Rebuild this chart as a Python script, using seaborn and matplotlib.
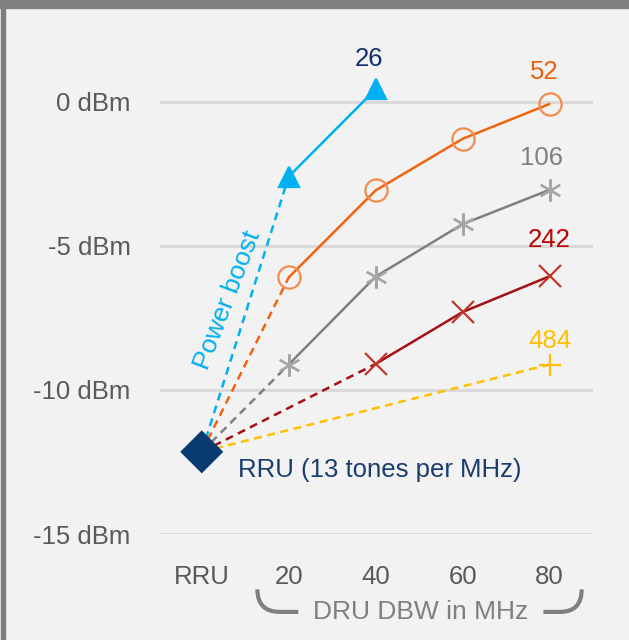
import matplotlib
matplotlib.use("Agg")
import matplotlib.pyplot as plt
import matplotlib.transforms as mtransforms
from matplotlib.path import Path
from matplotlib.patches import PathPatch
import seaborn as sns

## Data
categories = ["RRU", "20", "40", "60", "80"]
y_ticks = [0, -5, -10, -15]
y_tick_labels = ["0 dBm", "-5 dBm", "-10 dBm", "-15 dBm"]
rru_power = -12.15

bw_26 = ["20", "40"]
power_26 = [-2.6, 0.43]
bw_52 = ["20", "40", "60", "80"]
power_52 = [-6.1, -3.08, -1.29, -0.08]
bw_106 = ["20", "40", "60", "80"]
power_106 = [-9.12, -6.07, -4.25, -3.06]
bw_242 = ["40", "60", "80"]
power_242 = [-9.1, -7.3, -6.06]
bw_484 = ["80"]
power_484 = [-9.12]

## Style
sns.set_style("white", {"axes.facecolor": "#f2f2f2", "figure.facecolor": "#f2f2f2"})
plt.rcParams["font.family"] = ["Liberation Sans", "DejaVu Sans"]
FS = 18.5

fig = plt.figure(figsize=(6.29, 6.40), dpi=100)
ax = fig.add_axes([160 / 629, 106 / 640, 433 / 629, 490 / 640])

series = [
    # label, bandwidths, values, line colour, marker, marker colour, label colour, label offset
    ("26", bw_26, power_26, "#00b0f0", "^", "#00b0f0", "#14306a", (-5, 22)),
    ("52", bw_52, power_52, "#f0640f", "o", "#f28c4e", "#ee5f0d", (-4, 23)),
    ("106", bw_106, power_106, "#7f7f7f", (6, 2, 0), "#a6a6a6", "#7f7f7f", (-6, 23)),
    ("242", bw_242, power_242, "#a50f15", "x", "#c0392b", "#c00000", (0, 26)),
    ("484", bw_484, power_484, "#ffc000", "+", "#ffc000", "#ffc000", (0, 17)),
]

for name, bws, vals, lc, mk, mc, tc, off in series:
    xs = [categories.index(b) for b in bws]
    # dashed connector from the RRU point
    sns.lineplot(x=[0, xs[0]], y=[rru_power, vals[0]], ax=ax, color=lc,
                 linewidth=1.8, linestyle=(0, (3.2, 2.2)), zorder=2)
    if len(xs) > 1:
        sns.lineplot(x=xs, y=vals, ax=ax, color=lc, linewidth=1.8, zorder=3)
    filled = mk == "^"
    sns.lineplot(x=xs, y=vals, ax=ax, color=lc, linewidth=0, marker=mk,
                 markersize=16 if mk != "^" else 15,
                 markerfacecolor=mc if filled else "none",
                 markeredgecolor=mc, markeredgewidth=1.6, zorder=4)
    ax.annotate(name, (xs[-1], vals[-1]), xytext=off, textcoords="offset points",
                ha="center", va="center", fontsize=FS, color=tc)

# RRU reference point
sns.scatterplot(x=[0], y=[rru_power], ax=ax, marker="D", s=480, color="#0a3b70",
                edgecolor="none", zorder=5)
ax.annotate("RRU (13 tones per MHz)", (0, rru_power), xytext=(26, -13),
            textcoords="offset points", ha="left", va="center", fontsize=FS,
            color="#1a3d6e")
ax.text(0.30, -6.9, "Power boost", rotation=69, rotation_mode="anchor",
        ha="center", va="center", fontsize=FS + 0.5, color="#00b0f0")

## Axes
ax.set_xlim(-0.48, 4.5)
ax.set_ylim(-15, 2)
ax.set_xticks(range(len(categories)))
ax.set_xticklabels(categories)
ax.set_yticks(y_ticks)
ax.set_yticklabels(y_tick_labels)
ax.tick_params(axis="both", length=0, labelsize=FS, labelcolor="#595959")
ax.tick_params(axis="x", pad=22.5)
ax.tick_params(axis="y", pad=21)
ax.yaxis.grid(True, color="#d9d9d9", linewidth=2.2)
ax.set_axisbelow(True)
for s in ax.spines.values():
    s.set_visible(False)
ax.set_xlabel("")
ax.set_ylabel("")

# bracket under the DRU bandwidths
trans = mtransforms.blended_transform_factory(ax.transData, ax.transAxes)
left = Path([(0.64, -0.113), (0.64, -0.159), (0.90, -0.159), (1.11, -0.159)],
            [Path.MOVETO, Path.CURVE3, Path.CURVE3, Path.LINETO])
right = Path([(3.93, -0.159), (4.12, -0.159), (4.37, -0.159), (4.37, -0.113)],
             [Path.MOVETO, Path.LINETO, Path.CURVE3, Path.CURVE3])
for p in (left, right):
    ax.add_patch(PathPatch(p, transform=trans, facecolor="none", edgecolor="#7f7f7f",
                           linewidth=3, capstyle="butt", clip_on=False))
ax.text(2.52, -0.159, "DRU DBW in MHz", transform=trans, ha="center", va="center",
        fontsize=FS + 0.5, color="#7f7f7f")

# frame on top and left edge
fig.add_artist(plt.Rectangle((0, 632 / 640), 1, 8 / 640, transform=fig.transFigure,
                             color="#7f7f7f", zorder=10))
fig.add_artist(plt.Rectangle((1 / 629, 0), 4 / 629, 1, transform=fig.transFigure,
                             color="#7f7f7f", zorder=10))

fig.savefig("out.png", dpi=100, facecolor=fig.get_facecolor())
